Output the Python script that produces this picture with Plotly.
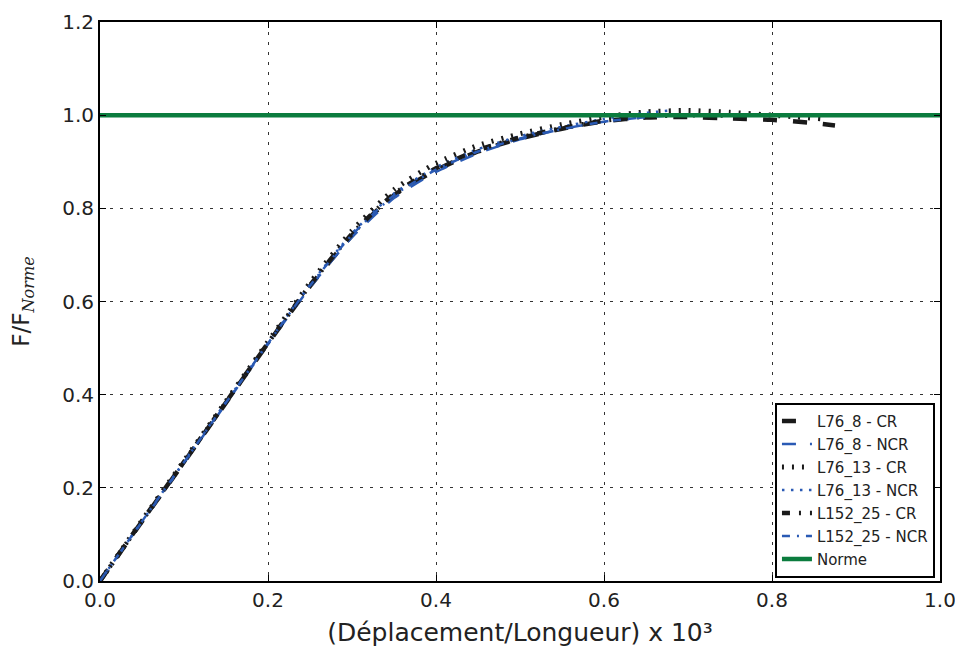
import plotly.graph_objects as go

# ---- data ----
x_l76_8_cr = [0, .05, .1, .15, .2, .25, .3, .35, .4, .45, .5, .55, .6, .65, .7, .75, .8, .85, .875]
y_l76_8_cr = [0, .128, .255, .383, .51, .633, .742, .828, .882, .922, .950, .971, .987, .995, .996, .993, .990, .983, .978]

x_l76_8_ncr = [0, .05, .1, .15, .2, .25, .3, .35, .4, .45, .5, .55, .6, .65, .7]
y_l76_8_ncr = [0, .127, .253, .381, .508, .63, .738, .822, .878, .918, .948, .970, .986, .996, 1.0]

x_l76_13_cr = [0, .05, .1, .15, .2, .25, .3, .35, .4, .45, .5, .55, .6, .65, .7, .75, .8, .86]
y_l76_13_cr = [0, .13, .258, .386, .514, .64, .752, .84, .897, .935, .960, .980, .996, 1.007, 1.01, 1.006, 1.0, .992]

x_l76_13_ncr = [0, .05, .1, .15, .2, .25, .3, .35, .4, .45, .5, .55, .6, .65, .68]
y_l76_13_ncr = [0, .128, .256, .384, .511, .636, .746, .832, .888, .927, .955, .975, .992, 1.005, 1.01]

x_l152_25_cr = [0, .05, .1, .15, .2, .25, .3, .35, .4, .45, .5, .55, .6, .65, .7, .75]
y_l152_25_cr = [0, .129, .256, .384, .511, .635, .745, .831, .886, .925, .952, .972, .988, .997, 1.0, .999]

x_l152_25_ncr = [0, .05, .1, .15, .2, .25, .3, .35, .4, .45, .5, .55, .6, .65]
y_l152_25_ncr = [0, .128, .255, .383, .510, .634, .743, .828, .883, .922, .950, .970, .986, .996]

x_norme = [0, 1]
y_norme = [1, 1]

x_ticks = [0, 0.2, 0.4, 0.6, 0.8, 1.0]
y_ticks = [0, 0.2, 0.4, 0.6, 0.8, 1.0, 1.2]

BLACK = '#1a1a1a'
BLUE = '#2a5ab4'
GREEN = '#0b7c3e'
TXT = '#222222'

series = [
    ("L76_8 - CR", x_l76_8_cr, y_l76_8_cr, BLACK, 4.5, "14px,16px"),
    ("L76_8 - NCR", x_l76_8_ncr, y_l76_8_ncr, BLUE, 2.5, "14px,14px"),
    ("L76_13 - CR", x_l76_13_cr, y_l76_13_cr, BLACK, 5, "2px,8px"),
    ("L76_13 - NCR", x_l76_13_ncr, y_l76_13_ncr, BLUE, 2.5, "2.5px,6.5px"),
    ("L152_25 - CR", x_l152_25_cr, y_l152_25_cr, BLACK, 4.5, "8px,9px,2px,9px"),
    ("L152_25 - NCR", x_l152_25_ncr, y_l152_25_ncr, BLUE, 2.5, "8px,7px,2px,7px"),
]

fig = go.Figure()
for i, (name, xs, ys, col, w, dash) in enumerate(series):
    fig.add_trace(go.Scatter(x=xs, y=ys, mode='lines', name=name, legendgroup=str(i),
                             line=dict(color=col, width=w, dash=dash, shape='spline', smoothing=0.6)))
fig.add_trace(go.Scatter(x=x_norme, y=y_norme, mode='lines', name='Norme', legendgroup='n',
                         line=dict(color=GREEN, width=4.5)))

axis_common = dict(showline=True, linecolor='black', linewidth=2, mirror='allticks',
                   ticks='inside', ticklen=6, tickwidth=1, tickcolor='black',
                   showgrid=True, gridcolor='#333333', gridwidth=1, griddash='2.5px,7.5px',
                   zeroline=False, tickfont=dict(size=20, color=TXT), automargin=False)

fig.update_xaxes(range=[0, 1], tickvals=x_ticks, ticktext=[f"{v:.1f}" for v in x_ticks],
                 title=dict(text="(Déplacement/Longueur) x 10³", font=dict(size=25, color=TXT), standoff=12),
                 **axis_common)
fig.update_yaxes(range=[0, 1.2], tickvals=y_ticks, ticktext=[f"{v:.1f}" for v in y_ticks],
                 title=dict(text="F/F<sub><span style='font-family:DejaVu Serif, serif;font-style:italic'>Norme</span></sub>",
                            font=dict(size=23, color=TXT), standoff=27),
                 **axis_common)

fig.update_layout(
    width=955, height=643,
    margin=dict(l=92, r=23, t=14, b=70),
    plot_bgcolor='white', paper_bgcolor='white',
    font=dict(family='DejaVu Sans', color=TXT),
    legend=dict(x=0.994, xanchor='right', y=0.006, yanchor='bottom',
                bgcolor='white', bordercolor='black', borderwidth=2,
                font=dict(size=15, color=TXT), tracegroupgap=0.5,
                traceorder='grouped'),
)

fig.write_html("out.html")
